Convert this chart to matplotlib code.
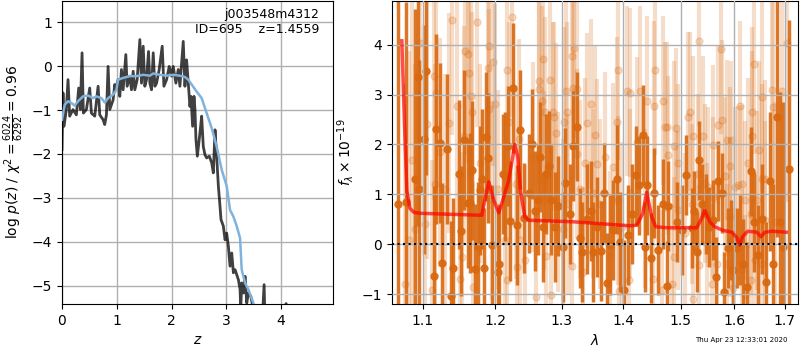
import numpy as np
import matplotlib
matplotlib.use("Agg")
import matplotlib.pyplot as plt
from matplotlib.ticker import FixedLocator, FixedFormatter, NullLocator

# p(z) curve (dark) and smoothed prior-weighted curve (blue)
z_pz = [0.000, 0.018, 0.037, 0.079, 0.110, 0.140, 0.201, 0.262, 0.305, 0.335,
        0.366, 0.390, 0.445, 0.506, 0.537, 0.598, 0.659, 0.689, 0.750, 0.780,
        0.811, 0.841, 0.872, 0.933, 0.963, 0.982, 1.024, 1.055, 1.085, 1.116,
        1.165, 1.189, 1.238, 1.268, 1.299, 1.329, 1.372, 1.421, 1.451, 1.482,
        1.512, 1.543, 1.579, 1.604, 1.634, 1.665, 1.695, 1.726, 1.774, 1.829,
        1.860, 1.909, 1.957, 2.000, 2.030, 2.079, 2.122, 2.152, 2.213, 2.244,
        2.274, 2.305, 2.335, 2.354, 2.384, 2.409, 2.427, 2.445, 2.470, 2.518,
        2.549, 2.579, 2.610, 2.640, 2.689, 2.732, 2.762, 2.793, 2.823, 2.854,
        2.884, 2.902, 2.945, 2.976, 3.006, 3.037, 3.067, 3.098, 3.128, 3.159,
        3.220, 3.250, 3.262, 3.280, 3.311, 3.341, 3.372, 3.402, 3.445, 3.494,
        3.555, 3.646, 3.689, 3.707, 3.860, 4.091, 4.134]
logp = [-1.90, -0.61, -1.37, -0.99, -0.31, -1.14, -0.99, -1.11, -0.50, -0.99,
        0.30, -1.07, -0.99, -0.50, -1.07, -1.14, -0.46, -1.11, -1.22, -1.33,
        -1.11, -0.01, -0.99, -0.77, -0.42, -0.54, -0.31, -0.69, -0.08, -0.54,
        0.26, -0.46, -0.23, -0.54, -0.12, -0.54, -0.31, 0.60, -0.39, 0.45,
        -0.46, -0.31, 0.33, -0.39, -0.54, 0.30, -0.46, -0.39, -0.08, 0.45,
        -0.46, -0.31, -0.01, -0.23, -0.01, -0.39, -0.08, -0.46, 0.56, -0.46,
        0.14, -0.39, -0.92, -0.69, -1.37, -0.69, -0.99, -1.67, -2.05, -1.52,
        -1.14, -1.83, -2.02, -2.09, -2.05, -2.20, -2.43, -1.45, -2.05, -2.73,
        -3.19, -3.49, -3.64, -3.95, -3.80, -4.10, -4.55, -4.25, -4.70, -4.63,
        -4.86, -5.08, -5.54, -4.93, -5.16, -4.78, -5.39, -5.16, -5.23, -5.54,
        -5.77, -6.00, -4.97, -5.92, -6.07, -5.40, -6.07]

z_prior = [0.000, 0.049, 0.110, 0.171, 0.232, 0.293, 0.384, 0.476, 0.567, 0.628,
           0.720, 0.780, 0.841, 0.933, 0.994, 1.024, 1.116, 1.238, 1.360, 1.482,
           1.604, 1.665, 1.787, 1.909, 2.030, 2.152, 2.244, 2.305, 2.366, 2.457,
           2.549, 2.640, 2.732, 2.823, 2.915, 3.006, 3.067, 3.128, 3.189, 3.250,
           3.280, 3.341, 3.402, 3.494, 3.585]
logp_prior = [-1.22, -0.88, -0.80, -0.84, -0.90, -0.80, -0.69, -0.67, -0.73, -0.69,
              -0.73, -0.83, -0.73, -0.65, -0.54, -0.31, -0.27, -0.23, -0.23, -0.20,
              -0.22, -0.17, -0.20, -0.22, -0.20, -0.22, -0.25, -0.31, -0.42, -0.58,
              -0.73, -1.07, -1.41, -1.83, -2.36, -2.73, -3.27, -3.42, -3.64, -3.91,
              -4.63, -4.93, -5.08, -5.39, -5.69]

# spectrum, best beam (dark)
wave_a = [1.0674, 1.0778, 1.0895, 1.0934, 1.0947, 1.1013, 1.1040, 1.1146, 1.1173, 1.1227,
          1.1254, 1.1322, 1.1376, 1.1404, 1.1486, 1.1513, 1.1555, 1.1611, 1.1639, 1.1667,
          1.1709, 1.1752, 1.1780, 1.1808, 1.1837, 1.1865, 1.1894, 1.1951, 1.2038, 1.2052,
          1.2110, 1.2139, 1.2183, 1.2212, 1.2256, 1.2315, 1.2360, 1.2420, 1.2495, 1.2540,
          1.2585, 1.2630, 1.2661, 1.2707, 1.2753, 1.2799, 1.2829, 1.2891, 1.2937, 1.3015,
          1.3046, 1.3125, 1.3172, 1.3236, 1.3284, 1.3316, 1.3397, 1.3462, 1.3494, 1.3559,
          1.3625, 1.3673, 1.3723, 1.3773, 1.3822, 1.3889, 1.3939, 1.4006, 1.4073, 1.4141,
          1.4209, 1.4260, 1.4329, 1.4363, 1.4398, 1.4467, 1.4519, 1.4589, 1.4677, 1.4748,
          1.4766, 1.4927, 1.5017, 1.5090, 1.5199, 1.5235, 1.5290, 1.5327, 1.5382, 1.5456,
          1.5512, 1.5587, 1.5643, 1.5680, 1.5755, 1.5793, 1.5869, 1.5926, 1.5964, 1.6041,
          1.6099, 1.6157, 1.6237, 1.6316, 1.6376, 1.6457, 1.6537, 1.6619, 1.6700, 1.6761,
          1.6842, 1.6905, 1.6965, 1.7093]
flux_a = [0.80, 0.85, 1.31, 3.36, 1.10, 2.10, 3.48, -0.64, 2.31, 2.03,
          -0.37, 1.91, -1.04, -0.47, 1.40, 0.26, 2.09, 0.83, 0.83, 1.48,
          -0.50, -0.05, 1.08, 1.31, -0.47, 2.16, 1.73, -0.02, -0.56, -0.39,
          1.41, 1.36, 1.97, 0.46, 3.13, 0.38, 2.30, 0.53, 1.02, 2.01,
          0.66, 0.89, 1.75, 0.35, 1.41, 1.57, 0.89, 0.35, 0.76, -0.05,
          1.23, 0.61, 1.97, 2.36, 0.13, -0.15, 0.50, 0.67, -0.15, 0.35,
          -0.13, 1.03, -0.77, -0.02, 0.28, 1.30, 0.05, -0.92, 0.18, 0.61,
          1.38, 1.18, 2.19, -0.06, 1.18, -0.27, 1.02, -0.12, 0.80, -0.84,
          0.76, 0.44, 0.28, 1.39, 0.33, 0.66, -0.16, 1.68, 0.81, 0.60,
          0.35, 0.48, -0.65, 1.26, 1.03, -0.95, -0.08, 0.08, -0.52, -0.08,
          0.08, -0.39, -0.85, 1.46, 0.45, -0.22, 0.50, -0.75, 1.26, -0.40,
          2.55, 0.45, -0.05, 1.50]
err_a = [4.6, 4.0, 3.4, 3.0, 2.6, 2.3, 2.1, 1.8, 1.9, 1.6,
         1.6, 1.5, 1.5, 1.4, 1.5, 1.3, 1.4, 1.3, 1.4, 1.4,
         1.3, 1.3, 1.3, 1.4, 1.2, 1.3, 1.3, 1.2, 1.3, 1.2,
         1.2, 1.3, 1.2, 1.2, 1.3, 1.2, 1.2, 1.1, 1.2, 1.1,
         1.2, 1.1, 1.1, 1.1, 1.2, 1.1, 1.1, 1.1, 1.0, 1.1,
         1.1, 1.0, 1.1, 1.1, 1.0, 1.0, 1.1, 1.0, 1.0, 1.0,
         1.0, 1.0, 1.0, 1.0, 1.0, 1.1, 1.0, 1.0, 1.0, 1.0,
         1.0, 1.0, 1.0, 0.9, 1.0, 0.9, 0.9, 0.9, 0.9, 0.9,
         0.9, 0.8, 0.9, 0.8, 0.8, 0.8, 0.8, 0.8, 0.8, 0.8,
         0.8, 0.8, 0.8, 0.8, 0.8, 0.8, 0.8, 0.8, 0.8, 0.8,
         0.9, 0.9, 0.9, 0.9, 1.0, 1.0, 1.1, 1.2, 1.4, 1.6,
         2.4, 2.6, 2.9, 3.0]

# spectrum, other beams (light)
wave_b = [1.0765, 1.0816, 1.0855, 1.0895, 1.0960, 1.1026, 1.1053, 1.1120, 1.1146, 1.1160,
          1.1173, 1.1227, 1.1295, 1.1349, 1.1390, 1.1459, 1.1499, 1.1527, 1.1555, 1.1569,
          1.1611, 1.1625, 1.1650, 1.1667, 1.1680, 1.1738, 1.1780, 1.1894, 1.1908, 1.1915,
          1.1951, 1.1966, 1.1995, 1.2038, 1.2139, 1.2168, 1.2175, 1.2197, 1.2241, 1.2300,
          1.2315, 1.2345, 1.2360, 1.2435, 1.2555, 1.2600, 1.2645, 1.2652, 1.2692, 1.2707,
          1.2722, 1.2738, 1.2753, 1.2814, 1.2829, 1.2860, 1.2875, 1.2906, 1.2937, 1.3015,
          1.3031, 1.3062, 1.3078, 1.3093, 1.3156, 1.3165, 1.3172, 1.3188, 1.3236, 1.3245,
          1.3284, 1.3332, 1.3364, 1.3397, 1.3462, 1.3494, 1.3527, 1.3559, 1.3608, 1.3690,
          1.3773, 1.3822, 1.3889, 1.3906, 1.3915, 1.3922, 1.3973, 1.4056, 1.4100, 1.4107,
          1.4115, 1.4226, 1.4277, 1.4363, 1.4398, 1.4502, 1.4519, 1.4537, 1.4660, 1.4677,
          1.4713, 1.4748, 1.4766, 1.4837, 1.4873, 1.4880, 1.4909, 1.4945, 1.4952, 1.5072,
          1.5127, 1.5163, 1.5199, 1.5217, 1.5225, 1.5309, 1.5327, 1.5335, 1.5401, 1.5438,
          1.5475, 1.5494, 1.5568, 1.5587, 1.5595, 1.5662, 1.5680, 1.5737, 1.5755, 1.5812,
          1.5850, 1.5858, 1.5907, 1.5915, 1.5926, 1.5964, 1.6003, 1.6061, 1.6099, 1.6138,
          1.6145, 1.6197, 1.6205, 1.6257, 1.6316, 1.6330, 1.6336, 1.6345, 1.6376, 1.6396,
          1.6437, 1.6477, 1.6530, 1.6537, 1.6545, 1.6598, 1.6605, 1.6741, 1.6750, 1.6802,
          1.6945, 1.7048]
flux_b = [-0.79, 0.08, 1.69, 0.31, 4.03, 0.41, 2.41, -0.92, 3.38, 1.21,
          3.03, 1.84, 1.11, 2.43, 4.50, 2.78, -0.69, -0.25, 2.18, 3.88,
          3.82, 3.43, 2.98, 2.65, -0.85, 4.46, 1.62, 3.53, 3.98, 2.71,
          0.88, 3.66, 2.81, 1.10, 0.08, 3.49, -0.72, 2.46, 4.56, 1.21,
          -0.45, 2.11, 0.08, -0.32, 1.75, -1.06, 3.28, 3.11, 2.87, 3.71,
          1.28, 2.66, -0.24, 3.29, -1.02, 2.66, 2.56, 2.24, 0.85, 0.31,
          2.46, 3.08, 2.66, 0.81, 3.78, -0.44, 3.13, 3.93, 3.11, 1.81,
          1.10, -0.55, 1.63, 2.43, 2.81, 1.02, 2.19, 1.61, 0.81, 1.75,
          -0.24, 1.54, 2.46, 3.49, 0.88, -0.94, 0.35, 3.07, -0.72, 3.04,
          1.02, 2.05, 3.08, 0.72, 2.87, -0.69, 2.78, 3.49, -0.92, 2.88,
          2.35, 2.36, 1.78, -0.79, 1.97, -0.25, 2.33, 1.62, 0.68, 0.22,
          2.56, 2.66, 0.81, 2.18, -1.09, 1.41, 4.08, -0.42, 2.18, 1.22,
          0.02, 1.15, -0.79, 1.99, 0.95, -0.39, 2.40, 3.91, 2.50, 1.36,
          2.09, -0.39, 1.56, 0.54, 2.08, -0.87, 1.15, 1.18, 2.78, 1.20,
          -0.49, 0.88, -1.02, 1.63, 0.61, -0.72, 2.66, 2.18, 3.61, -0.32,
          0.88, 1.88, -0.39, 2.95, 1.31, 1.30, 0.48, 3.09, 2.75, 0.45,
          3.08, 4.04]
err_b = [4.0, 3.8, 3.5, 3.3, 3.0, 2.8, 2.7, 2.6, 2.5, 2.4,
         2.4, 2.3, 2.3, 2.2, 2.3, 2.2, 2.2, 2.1, 2.2, 2.1,
         2.2, 2.1, 2.1, 2.0, 2.1, 2.1, 2.0, 2.1, 2.0, 2.0,
         2.0, 2.1, 2.0, 2.0, 1.9, 2.0, 1.9, 2.0, 2.0, 1.9,
         1.9, 2.0, 1.9, 1.9, 1.9, 1.8, 1.9, 1.9, 1.9, 1.9,
         1.8, 1.9, 1.8, 1.9, 1.8, 1.8, 1.9, 1.8, 1.8, 1.8,
         1.9, 1.8, 1.8, 1.8, 1.9, 1.8, 1.8, 1.8, 1.8, 1.7,
         1.8, 1.7, 1.7, 1.8, 1.7, 1.7, 1.8, 1.7, 1.7, 1.7,
         1.7, 1.7, 1.7, 1.8, 1.7, 1.7, 1.7, 1.7, 1.7, 1.7,
         1.7, 1.7, 1.7, 1.6, 1.7, 1.6, 1.7, 1.7, 1.6, 1.7,
         1.7, 1.7, 1.6, 1.6, 1.7, 1.6, 1.6, 1.6, 1.6, 1.6,
         1.7, 1.6, 1.6, 1.6, 1.6, 1.6, 1.7, 1.6, 1.6, 1.6,
         1.6, 1.6, 1.6, 1.6, 1.6, 1.6, 1.6, 1.7, 1.6, 1.6,
         1.6, 1.6, 1.6, 1.6, 1.6, 1.6, 1.6, 1.6, 1.7, 1.6,
         1.6, 1.6, 1.6, 1.7, 1.6, 1.7, 1.7, 1.7, 1.8, 1.7,
         1.8, 1.8, 1.8, 1.9, 1.9, 2.0, 2.0, 2.2, 2.2, 2.4,
         2.8, 3.2]

# best-fit model
wave_m = [1.0726, 1.0765, 1.0791, 1.0830, 1.0882, 1.0960, 1.1363, 1.1808, 1.1851, 1.1908,
          1.1980, 1.2052, 1.2125, 1.2197, 1.2256, 1.2286, 1.2330, 1.2375, 1.2435, 1.2495,
          1.3172, 1.4107, 1.4226, 1.4329, 1.4398, 1.4484, 1.4554, 1.4748, 1.5290, 1.5364,
          1.5438, 1.5531, 1.5624, 1.5774, 1.5945, 1.6041, 1.6099, 1.6157, 1.6257, 1.6437,
          1.6517, 1.6598, 1.6741, 1.7027]
flux_m = [4.08, 2.20, 1.08, 0.72, 0.64, 0.62, 0.60, 0.58, 0.88, 1.25,
          0.88, 0.63, 0.95, 1.28, 1.75, 2.00, 1.75, 1.02, 0.55, 0.48,
          0.45, 0.37, 0.38, 0.61, 1.04, 0.55, 0.35, 0.33, 0.33, 0.48,
          0.68, 0.45, 0.35, 0.28, 0.24, 0.14, -0.02, 0.15, 0.26, 0.24,
          0.15, 0.24, 0.26, 0.24]

orange = '#d9680f'

fig = plt.figure(figsize=(8, 3.5), dpi=100)
ax1 = fig.add_axes([0.0775, 0.1314, 0.339, 0.866])
ax2 = fig.add_axes([0.49, 0.1314, 0.5075, 0.866])

# left: redshift probability
ax1.plot(z_pz, logp, color='k', alpha=0.75, lw=2, zorder=3)
ax1.plot(z_prior, logp_prior, color='#7fb2dc', lw=1.8, zorder=4)
ax1.set_xlim(0, 4.95)
ax1.set_ylim(-5.41, 1.48)
ax1.set_xticks([0, 1, 2, 3, 4])
ax1.set_yticks([-5, -4, -3, -2, -1, 0, 1])
ax1.grid(True, color='#b0b0b0', lw=1)
ax1.set_xlabel(r'$z$')
ax1.set_ylabel(r'$\log\,p(z)$ / $\chi^2=\frac{6024}{6292}=0.96$')
ax1.text(0.95, 0.975, 'j003548m4312\nID=695    z=1.4559', ha='right', va='top',
         transform=ax1.transAxes, fontsize=9, linespacing=1.15)

# right: 1D spectrum
ax2.errorbar(wave_b, flux_b, yerr=err_b, marker='o', ms=5, linestyle='none',
             color=orange, alpha=0.22, elinewidth=3, zorder=1)
ax2.errorbar(wave_a, flux_a, yerr=err_a, marker='o', ms=5, linestyle='none',
             color=orange, alpha=0.9, elinewidth=2.5, zorder=2)
ax2.plot(wave_m, flux_m, color='r', alpha=0.7, lw=2.5, zorder=4)
ax2.axhline(0, color='k', ls=':', lw=1.5, zorder=5)
ax2.set_xscale('log')
ax2.set_xlim(1.06, 1.727)
ax2.set_ylim(-1.2, 4.88)
xt = [1.1, 1.2, 1.3, 1.4, 1.5, 1.6, 1.7]
ax2.xaxis.set_major_locator(FixedLocator(xt))
ax2.xaxis.set_major_formatter(FixedFormatter(['%.1f' % v for v in xt]))
ax2.xaxis.set_minor_locator(NullLocator())
ax2.set_yticks([-1, 0, 1, 2, 3, 4])
ax2.set_axisbelow(False)
ax2.grid(True, color='#b0b0b0', lw=1, zorder=3)
ax2.set_xlabel(r'$\lambda$')
ax2.set_ylabel(r'$f_\lambda\times10^{-19}$')

fig.text(0.984, 0.029, 'Thu Apr 23 12:33:01 2020', ha='right', va='center', fontsize=5)

fig.savefig('out.png', dpi=100)
